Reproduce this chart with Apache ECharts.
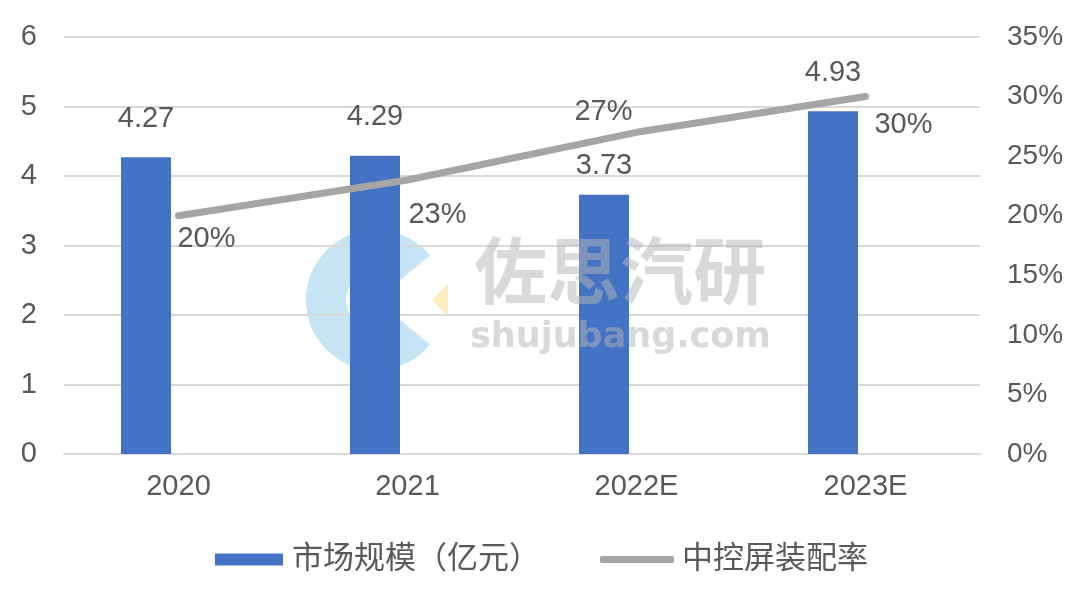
<!DOCTYPE html>
<html>
<head>
<meta charset="utf-8">
<script src="https://cdn.jsdelivr.net/npm/echarts@6/dist/echarts.min.js"></script>
<style>html,body{margin:0;padding:0;background:#fff;}#c{width:1080px;height:601px;}</style>
</head>
<body>
<div id="c"></div>
<script>
const categories = ['2020', '2021', '2022E', '2023E'];
const marketSize = [4.27, 4.29, 3.73, 4.93];
const installRate = [0.20, 0.23, 0.27, 0.30];
const leftTicks = [0, 1, 2, 3, 4, 5, 6];
const rightTicks = ['0%', '5%', '10%', '15%', '20%', '25%', '30%', '35%'];
const seriesNames = ['市场规模（亿元）', '中控屏装配率'];

const FONT = '"Liberation Sans", "Noto Sans CJK SC", sans-serif';
const TXT = '#595959';
const barLabelDist = [24, 24, 14, 24];
const lineLabelOffset = [[28, 23], [30, 35], [-33, -20], [38, 28]];

const chart = echarts.init(document.getElementById('c'), null, {renderer: 'canvas'});
const option = {
  backgroundColor: '#ffffff',
  animation: false,
  textStyle: {fontFamily: FONT},
  grid: {left: 64, right: 100, top: 37, bottom: 147, containLabel: false},
  legend: [
    {
      data: [{name: seriesNames[0], icon: 'rect'}],
      left: 210, top: 539,
      itemWidth: 68, itemHeight: 12,
      textStyle: {fontSize: 31, color: TXT, fontFamily: FONT, padding: [0, 0, 0, 4]},
      selectedMode: false
    },
    {
      data: [{name: seriesNames[1], icon: 'roundRect'}],
      left: 595, top: 539,
      itemWidth: 74, itemHeight: 7,
      textStyle: {fontSize: 31, color: TXT, fontFamily: FONT, padding: [0, 0, 0, 3]},
      selectedMode: false
    }
  ],
  xAxis: {
    type: 'category',
    data: categories,
    boundaryGap: true,
    axisLine: {lineStyle: {color: '#d9d9d9', width: 2}},
    axisTick: {show: false},
    axisLabel: {fontSize: 29, color: TXT, margin: 18, fontFamily: FONT}
  },
  yAxis: [
    {
      type: 'value', min: leftTicks[0], max: leftTicks[leftTicks.length - 1], interval: 1,
      axisLine: {show: false}, axisTick: {show: false},
      axisLabel: {fontSize: 29, color: TXT, margin: 27, fontFamily: FONT},
      splitLine: {lineStyle: {color: '#d9d9d9', width: 2}}
    },
    {
      type: 'value', min: 0, max: 0.35, interval: 0.05,
      axisLine: {show: false}, axisTick: {show: false},
      axisLabel: {
        fontSize: 28, color: TXT, margin: 27, fontFamily: FONT,
        formatter: function (v) { return rightTicks[Math.round(v / 0.05)]; }
      },
      splitLine: {show: false}
    }
  ],
  series: [
    {
      name: seriesNames[0],
      type: 'bar',
      barWidth: 50,
      barGap: '30%',
      itemStyle: {color: '#4472c4'},
      data: marketSize.map(function (v, i) {
        return {value: v, label: {show: true, position: 'top', distance: barLabelDist[i]}};
      }),
      label: {fontSize: 29, color: TXT, fontFamily: FONT},
      z: 2
    },
    {
      name: 'spacer',
      type: 'bar',
      barWidth: 50,
      barGap: '30%',
      data: categories.map(function () { return '-'; }),
      silent: true
    },
    {
      name: seriesNames[1],
      type: 'line',
      yAxisIndex: 1,
      symbol: 'circle',
      symbolSize: 1,
      itemStyle: {color: '#a5a5a5'},
      lineStyle: {color: '#a5a5a5', width: 7, cap: 'round'},
      data: installRate.map(function (v, i) {
        return {
          value: v,
          label: {
            show: true, position: 'inside', offset: lineLabelOffset[i],
            fontSize: 29, color: TXT, fontFamily: FONT,
            formatter: Math.round(v * 100) + '%'
          }
        };
      }),
      z: 3
    }
  ],
  graphic: [
    {
      type: 'arc', z: 0, silent: true,
      shape: {cx: 376, cy: 300, r: 50, startAngle: Math.PI * 0.22, endAngle: Math.PI * 1.78, clockwise: true},
      style: {stroke: 'rgba(150,205,235,0.55)', lineWidth: 40, fill: null}
    },
    {
      type: 'polygon', z: 0, silent: true,
      shape: {points: [[432, 300], [448, 284], [448, 316]]},
      style: {fill: 'rgba(250,225,140,0.6)'}
    },
    {
      type: 'text', z: 100, silent: true, left: 474, top: 234,
      style: {text: '佐思汽研', font: 'bold 73px "Noto Sans CJK SC", sans-serif', fill: 'rgba(180,180,180,0.5)'}
    },
    {
      type: 'text', z: 100, silent: true, left: 470, top: 320,
      style: {text: 'shujubang.com', font: 'bold 35px "DejaVu Sans", sans-serif', fill: 'rgba(180,180,180,0.5)'}
    }
  ]
};
chart.setOption(option);
</script>
</body>
</html>
